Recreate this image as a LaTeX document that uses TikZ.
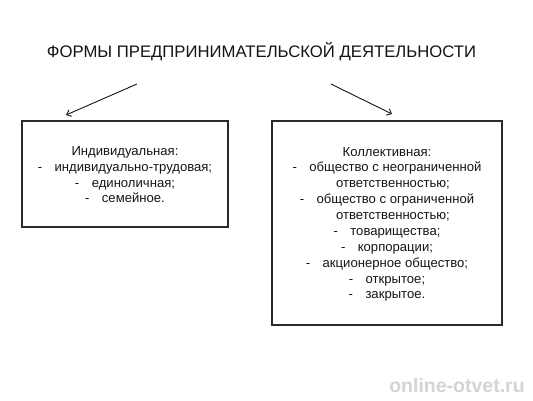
\documentclass[tikz,border=0pt]{standalone}
\usepackage{fontspec}
\setmainfont{Liberation Sans}
\usetikzlibrary{arrows.meta}
\definecolor{ink}{HTML}{151515}
\definecolor{frame}{HTML}{2A2A2A}
\tikzset{
  boxframe/.style={draw=frame, line width=1.4pt, minimum width=#1, inner sep=0pt},
  boxframe/.default=100pt,
  itemline/.style={inner sep=0pt, text=ink, font=\fontsize{13.1pt}{15pt}\selectfont, anchor=base},
  titletext/.style={inner sep=0pt, text=ink, font=\fontsize{16.7pt}{20pt}\selectfont, anchor=base},
  arrowline/.style={draw=ink, line width=0.9pt, -{Straight Barb[length=4pt,width=7pt]}},
  wmtext/.style={inner sep=0pt, text=black!17, font=\fontsize{19.5pt}{22pt}\selectfont\bfseries, anchor=base}
}
\newcommand{\dashitem}[1]{-\hspace{0.95em}#1}
\begin{document}
\begin{tikzpicture}[x=1pt,y=-1pt]
\useasboundingbox[fill=white] (0,0) rectangle (533,400);
% title
\node[titletext] (title) at (261.5,57) {ФОРМЫ ПРЕДПРИНИМАТЕЛЬСКОЙ ДЕЯТЕЛЬНОСТИ};
% boxes
\node[boxframe=206pt, minimum height=106pt] (left) at (125,174) {};
\node[boxframe=230pt, minimum height=204pt] (right) at (387,223) {};
% arrows
\coordinate (la) at (137,84);
\coordinate (lb) at (66,115);
\coordinate (ra) at (331,84);
\coordinate (rb) at (392,114);
\draw[arrowline] (la) -- (lb);
\draw[arrowline] (ra) -- (rb);
% left box text
\node[itemline] (l1) at (125,155) {Индивидуальная:};
\node[itemline] (l2) at (125,171) {\dashitem{индивидуально-трудовая;}};
\node[itemline] (l3) at (125,187) {\dashitem{единоличная;}};
\node[itemline] (l4) at (125,202) {\dashitem{семейное.}};
% right box text
\node[itemline] (r1) at (387,156) {Коллективная:};
\node[itemline] (r2) at (387,171.5) {\dashitem{общество с неограниченной}};
\node[itemline] (r3) at (393,187.5) {ответственностью;};
\node[itemline] (r4) at (387,203) {\dashitem{общество с ограниченной}};
\node[itemline] (r5) at (393,219) {ответственностью;};
\node[itemline] (r6) at (387,235) {\dashitem{товарищества;}};
\node[itemline] (r7) at (387,251) {\dashitem{корпорации;}};
\node[itemline] (r8) at (387,267) {\dashitem{акционерное общество;}};
\node[itemline] (r9) at (387,283) {\dashitem{открытое;}};
\node[itemline] (r10) at (387,298.5) {\dashitem{закрытое.}};
% watermark
\node[wmtext] (wm) at (457,392) {online-otvet.ru};
\end{tikzpicture}
\end{document}
